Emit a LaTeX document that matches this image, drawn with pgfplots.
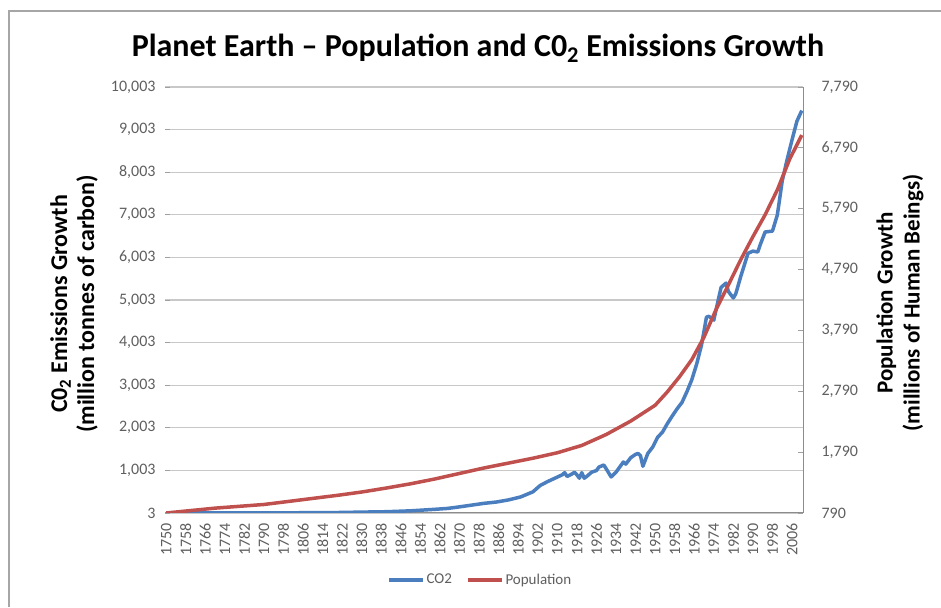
\documentclass[border=0pt]{standalone}
\usepackage{pgfplots}
\pgfplotsset{compat=1.18}
\usepackage{fontspec}
\setmainfont{Carlito}

\definecolor{co2blue}{RGB}{74,126,190}
\definecolor{popred}{RGB}{192,80,77}
\definecolor{tickgray}{RGB}{95,95,95}
\definecolor{gridgray}{RGB}{200,200,200}

% CO2 emissions, million tonnes of carbon
\pgfplotstableread{
year co2
1750 3
1760 3
1770 4
1780 5
1790 7
1800 8
1810 10
1820 14
1830 24
1840 33
1850 54
1860 90
1865 110
1870 147
1875 188
1880 230
1885 260
1890 310
1895 380
1900 500
1903 650
1906 740
1909 820
1912 900
1913 950
1914 860
1916 920
1917 960
1918 900
1919 820
1920 950
1921 820
1922 860
1924 960
1926 1000
1927 1080
1929 1130
1930 1040
1932 850
1934 960
1936 1120
1937 1200
1938 1150
1940 1300
1942 1380
1943 1400
1944 1350
1945 1100
1946 1250
1947 1400
1949 1550
1951 1780
1953 1900
1955 2100
1957 2280
1959 2450
1961 2600
1963 2850
1965 3130
1967 3500
1969 3950
1971 4600
1972 4620
1974 4530
1976 5050
1977 5300
1979 5400
1980 5200
1982 5050
1983 5150
1985 5550
1988 6100
1990 6150
1992 6130
1993 6300
1995 6600
1998 6620
2000 7000
2002 7800
2004 8300
2006 8760
2008 9200
2010 9450
}\coitable

% world population, millions
\pgfplotstableread{
year pop
1750 790
1760 830
1770 870
1780 900
1790 930
1800 980
1810 1030
1820 1080
1830 1135
1840 1200
1850 1270
1860 1350
1870 1440
1880 1530
1890 1610
1900 1690
1910 1780
1920 1900
1930 2080
1940 2300
1950 2560
1955 2780
1960 3030
1965 3310
1970 3680
1975 4140
1980 4540
1985 4950
1990 5330
1995 5690
2000 6100
2005 6600
2010 7000
}\poptable

\begin{document}
\begin{tikzpicture}[x=1pt,y=1pt]
\useasboundingbox (0,0) rectangle (941,607);
\fill[white] (0,0) rectangle (941,607);
% chart frame (top and left edge visible)
\draw[gray!70, line width=1.5pt] (9,0) -- (9,596) -- (941,596);

\node[font=\fontsize{32}{35}\selectfont\bfseries] at (478,559)
  {Planet Earth -- Population and C0\textsubscript{2} Emissions Growth};
\node[rotate=90, align=center, font=\fontsize{24}{27}\selectfont\bfseries] at (74,303)
  {C0\textsubscript{2} Emissions Growth\\(million tonnes of carbon)};
\node[rotate=90, align=center, font=\fontsize{23}{27}\selectfont\bfseries] at (900,304)
  {Population Growth\\(millions of Human Beings)};

\pgfplotsset{
  every axis/.append style={
    at={(165pt,94pt)}, anchor=south west,
    scale only axis, width=638pt, height=426pt,
    xmin=1749.5, xmax=2010.5,
    /pgf/number format/assume math mode=true,
    tick style={gridgray!80!black, line width=0.8pt},
    major tick length=5pt,
  },
}

\begin{axis}[
    axis y line*=left,
    axis x line*=bottom,
    axis line style={gridgray!70!black, line width=1pt},
    y axis line style={draw=none},
    ymin=3, ymax=10003,
    ytick={3,1003,2003,3003,4003,5003,6003,7003,8003,9003,10003},
    scaled y ticks=false,
    yticklabel style={font=\fontsize{16}{18}\selectfont, text=tickgray,
      xshift=-6pt, /pgf/number format/.cd, fixed, 1000 sep={,}},
    xtick={1750,1758,...,2006},
    xticklabel style={font=\fontsize{16}{18}\selectfont, text=tickgray,
      rotate=90, anchor=east, xshift=-7pt, /pgf/number format/1000 sep={}},
    x tick style={draw=none},
    ymajorgrids,
    major grid style={gridgray, line width=1.3pt},
    legend style={at={(0.494,-0.157)}, anchor=center, draw=none, fill=none,
      legend columns=2, font=\fontsize{15}{17}\selectfont\color{tickgray},
      /tikz/every even column/.append style={column sep=12pt}},
    legend image code/.code={\draw[#1] (0pt,0pt) -- (34pt,0pt);},
]
\addplot[co2blue, line width=3.5pt, line join=round] table[x=year, y=co2] {\coitable};
\addlegendentry{CO2}
\addlegendimage{popred, line width=3.5pt}
\addlegendentry{Population}
\end{axis}

\begin{axis}[
    axis y line*=right,
    axis x line=none,
    axis line style={gridgray!70!black, line width=1pt},
    ymin=790, ymax=7790,
    ytick={790,1790,2790,3790,4790,5790,6790,7790},
    scaled y ticks=false,
    yticklabel style={font=\fontsize{16}{18}\selectfont, text=tickgray,
      xshift=15pt, /pgf/number format/.cd, fixed, 1000 sep={,}},
]
\addplot[popred, line width=3.5pt, line join=round] table[x=year, y=pop] {\poptable};
\end{axis}
\end{tikzpicture}
\end{document}
